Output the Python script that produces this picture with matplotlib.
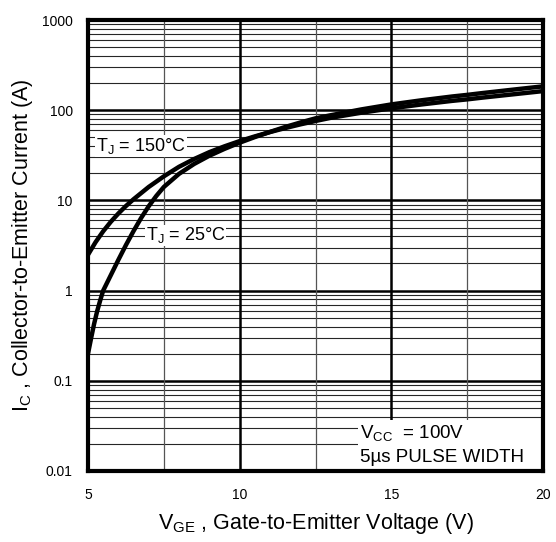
import numpy as np
import matplotlib
matplotlib.use('Agg')
import matplotlib.pyplot as plt
from matplotlib.patches import Rectangle

plt.rcParams['font.family'] = ['Liberation Sans', 'DejaVu Sans']
plt.rcParams['mathtext.fontset'] = 'custom'
plt.rcParams['mathtext.rm'] = 'Liberation Sans'
plt.rcParams['mathtext.it'] = 'Liberation Sans:italic'

# transfer characteristics
vge_150 = [5.0, 5.25, 5.5, 5.75, 6.0, 6.25, 6.5, 7.0, 7.5, 8.0, 8.5, 9.0, 9.5, 10.0,
           10.5, 11.0, 11.5, 12.0, 12.5, 13.0, 14.0, 15.0, 16.0, 17.0, 17.5, 18.0,
           19.0, 20.0]
ic_150 = [2.5, 3.45, 4.55, 5.79, 7.16, 8.67, 10.3, 14.1, 18.5, 23.6, 28.8, 34.3, 39.8, 45.5,
          51.3, 57.3, 63.4, 69.7, 76.0, 82.4, 93.8, 105, 116, 127, 132, 138,
          150, 163]

vge_25 = [5.0, 5.1, 5.2, 5.3, 5.4, 5.5, 5.75, 6.0, 6.25, 6.5, 6.75, 7.0, 7.25, 7.5,
          8.0, 8.5, 9.0, 9.5, 10.0, 10.5, 11.0, 11.5, 12.0, 12.5, 13.0, 14.0, 15.0,
          16.0, 17.0, 17.5, 18.0, 19.0, 20.0]
ic_25 = [0.2, 0.295, 0.427, 0.589, 0.776, 1.0, 1.48, 2.19, 3.2, 4.57, 6.38, 8.61, 11.2, 14.1,
         19.7, 25.4, 31.3, 37.3, 43.7, 50.4, 57.5, 65.2, 73.1, 81.3, 88, 102, 116,
         129, 142, 148, 155, 169, 184]

x_ticks = [5, 10, 15, 20]
x_minor = [7.5, 12.5, 17.5]
y_ticks = [0.01, 0.1, 1, 10, 100, 1000]
y_labels = ['0.01', '0.1', '1', '10', '100', '1000']

fig = plt.figure(figsize=(5.56, 5.42), dpi=100)
ax = fig.add_axes([0.1583, 0.131, 0.8183, 0.832])
ax.set_yscale('log')
ax.set_xlim(5, 20)
ax.set_ylim(0.01, 1000)

# grid: decades and major volts heavy, the rest thin
for d in range(-2, 3):
    for k in range(2, 10):
        ax.axhline(k * 10.0 ** d, color='black', lw=0.8, alpha=0.85, zorder=1)
for y in y_ticks[1:-1]:
    ax.axhline(y, color='black', lw=1.8, zorder=1)
for x in x_minor:
    ax.axvline(x, color='#555555', lw=0.9, zorder=1)
for x in x_ticks[1:-1]:
    ax.axvline(x, color='black', lw=1.8, zorder=1)

ax.plot(vge_150, ic_150, color='black', lw=3.2, zorder=3, solid_joinstyle='round')
ax.plot(vge_25, ic_25, color='black', lw=3.2, zorder=3, solid_joinstyle='round')

ax.set_xticks(x_ticks)
ax.set_xticklabels([str(v) for v in x_ticks])
ax.set_yticks(y_ticks)
ax.set_yticklabels(y_labels)
ax.yaxis.set_minor_locator(matplotlib.ticker.NullLocator())
ax.tick_params(axis='both', length=0, labelsize=10)
ax.tick_params(axis='y', pad=11)
ax.tick_params(axis='x', pad=12)

for s in ax.spines.values():
    s.set_linewidth(3)
    s.set_zorder(5)

box = dict(facecolor='white', edgecolor='none', pad=0.5)
ax.text(5.26, 40, r'T$\mathregular{_J}$ = 150°C', fontsize=13, va='center',
        ha='left', bbox=box, zorder=4)
ax.text(6.9, 4.1, r'T$\mathregular{_J}$ = 25°C', fontsize=13, va='center',
        ha='left', bbox=box, zorder=4)

# white panel behind the test conditions
ax.add_patch(Rectangle((0.594, 0.0), 0.41, 0.113, transform=ax.transAxes,
                       facecolor='white', edgecolor='none', zorder=2))
ax.text(0.597, 0.084, r'V$\mathregular{_{CC}}$  = 100V', transform=ax.transAxes,
        fontsize=13.5, va='center', ha='left', zorder=4)
ax.text(0.597, 0.029, '5µs PULSE WIDTH', transform=ax.transAxes,
        fontsize=13.5, va='center', ha='left', zorder=4)

ax.set_xlabel(r'V$\mathregular{_{GE}}$ , Gate-to-Emitter Voltage (V)', fontsize=15.5, labelpad=7)
ax.set_ylabel(r'I$\mathregular{_C}$ , Collector-to-Emitter Current (A)', fontsize=15.5, labelpad=5)

fig.savefig('out.png', dpi=100)
